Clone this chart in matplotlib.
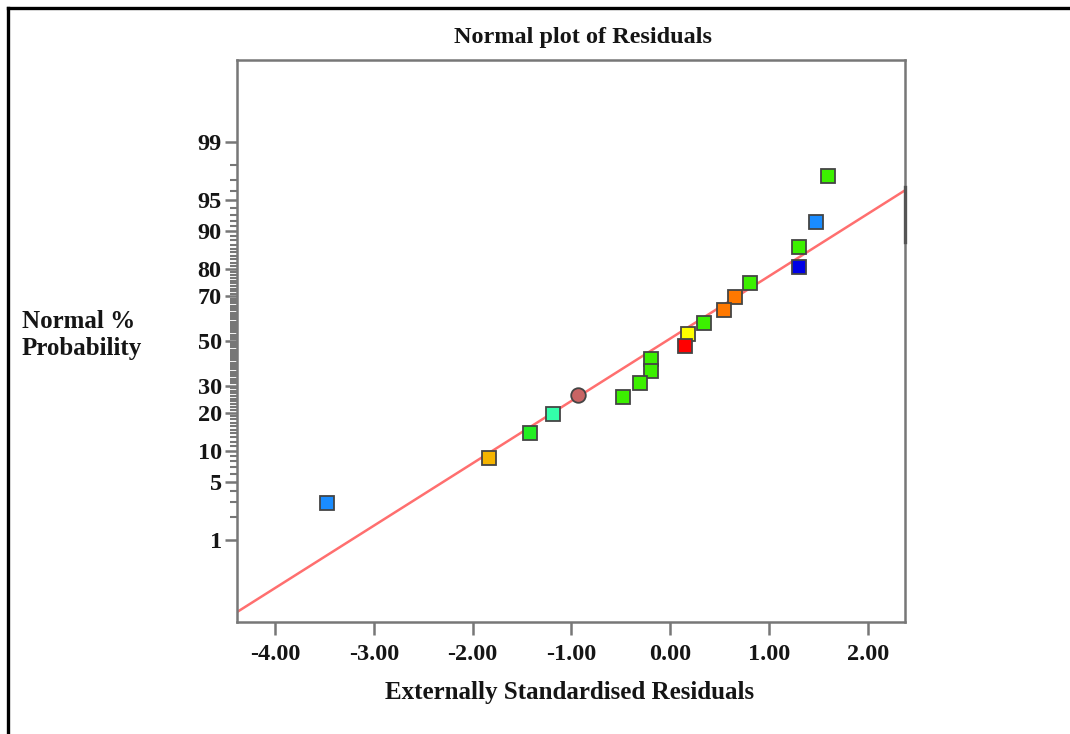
import matplotlib.pyplot as plt
from matplotlib.lines import Line2D
from matplotlib.transforms import blended_transform_factory
from statistics import NormalDist

# externally standardised residuals and their normal % probability
residuals = [1.60, 1.47, 1.30, 1.30, 0.81, 0.65, 0.54, 0.34, 0.18, 0.15,
             -0.20, -0.20, -0.31, -0.93, -0.48, -1.19, -1.42, -1.83, -3.47]
probability = [97.3, 91.8, 86.3, 80.5, 75.2, 69.8, 64.1, 58.5, 53.3, 47.7,
               41.7, 36.4, 31.1, 26.4, 25.5, 19.7, 14.0, 8.6, 2.9]
point_colors = ['#3cf000', '#1a8cff', '#3cf000', '#0000e6', '#3cf000',
                '#ff7800', '#ff7800', '#3cf000', '#ffff00', '#ff0000',
                '#3cf000', '#3cf000', '#3cf000', '#c86464', '#3cf000',
                '#33ffaa', '#22ee22', '#f5b400', '#1a8cff']
point_shapes = ['s'] * 13 + ['o'] + ['s'] * 5

# fitted normal line
fit_mean = -0.04
fit_sd = 1.372

prob_ticks = [1, 5, 10, 20, 30, 50, 70, 80, 90, 95, 99]
x_ticks = [-4, -3, -2, -1, 0, 1, 2]
x_range = [-4.385, 2.375]

nd = NormalDist()


def to_z(p):
    return nd.inv_cdf(p / 100.0)


plt.rcParams['font.family'] = ['Liberation Serif', 'DejaVu Serif']
plt.rcParams['font.weight'] = 'bold'

fig = plt.figure(figsize=(10.7, 7.34), dpi=100)
ax = fig.add_axes([237 / 1070, 1 - 622 / 734, 668 / 1070, 562 / 734])

spine_col = '#777777'
txt_col = '#151515'
for s in ax.spines.values():
    s.set_color(spine_col)
    s.set_linewidth(1.8)

# normal line
line_z = [(x - fit_mean) / fit_sd for x in x_range]
ax.plot(x_range, line_z, color='#ff6f6f', lw=1.8, zorder=2)

# residual points
for x, p, c, m in zip(residuals, probability, point_colors, point_shapes):
    ax.plot(x, to_z(p), marker=m, ms=10.5 if m == 'o' else 10, color=c,
            mec='#444444', mew=1.3, ls='none', zorder=3)

# darker piece of the right border
tr = blended_transform_factory(ax.transAxes, ax.transData)
ax.plot([1, 1], [1.16, 1.8], transform=tr, color='#555555', lw=2.4,
        clip_on=False, zorder=4)

ax.set_xlim(x_range)
ax.set_ylim(-3.283, 3.283)

ax.set_xticks(x_ticks)
ax.set_xticklabels([f'{v:.2f}' for v in x_ticks])
ax.set_yticks([to_z(p) for p in prob_ticks])
ax.set_yticklabels([str(p) for p in prob_ticks])
minor = [p for p in range(2, 99) if p not in prob_ticks]
ax.set_yticks([to_z(p) for p in minor], minor=True)

ax.tick_params(axis='both', which='major', length=9, width=1.8,
               color=spine_col, labelsize=17.5, labelcolor=txt_col)
ax.tick_params(axis='y', which='major', pad=2)
ax.tick_params(axis='x', which='major', pad=7)
ax.tick_params(axis='y', which='minor', length=5, width=1.5, color=spine_col)

fig.text(583 / 1070, 1 - 38 / 734, 'Normal plot of Residuals', ha='center',
         va='center', fontsize=17.5, fontweight='bold', color=txt_col)
fig.text(570 / 1070, 1 - 692 / 734, 'Externally Standardised Residuals',
         ha='center', va='center', fontsize=18, fontweight='bold',
         color=txt_col)
fig.text(22 / 1070, 1 - 322 / 734, 'Normal %', ha='left', va='center',
         fontsize=18, fontweight='bold', color=txt_col)
fig.text(22 / 1070, 1 - 348 / 734, 'Probability', ha='left', va='center',
         fontsize=18, fontweight='bold', color=txt_col)

# page frame on the left and top
fx = 8 / 1070
fy = 1 - 8 / 734
fig.add_artist(Line2D([fx, fx], [0, fy], color='black', lw=2.4))
fig.add_artist(Line2D([fx, 1], [fy, fy], color='black', lw=2.4))

fig.savefig('out.png', dpi=100)
